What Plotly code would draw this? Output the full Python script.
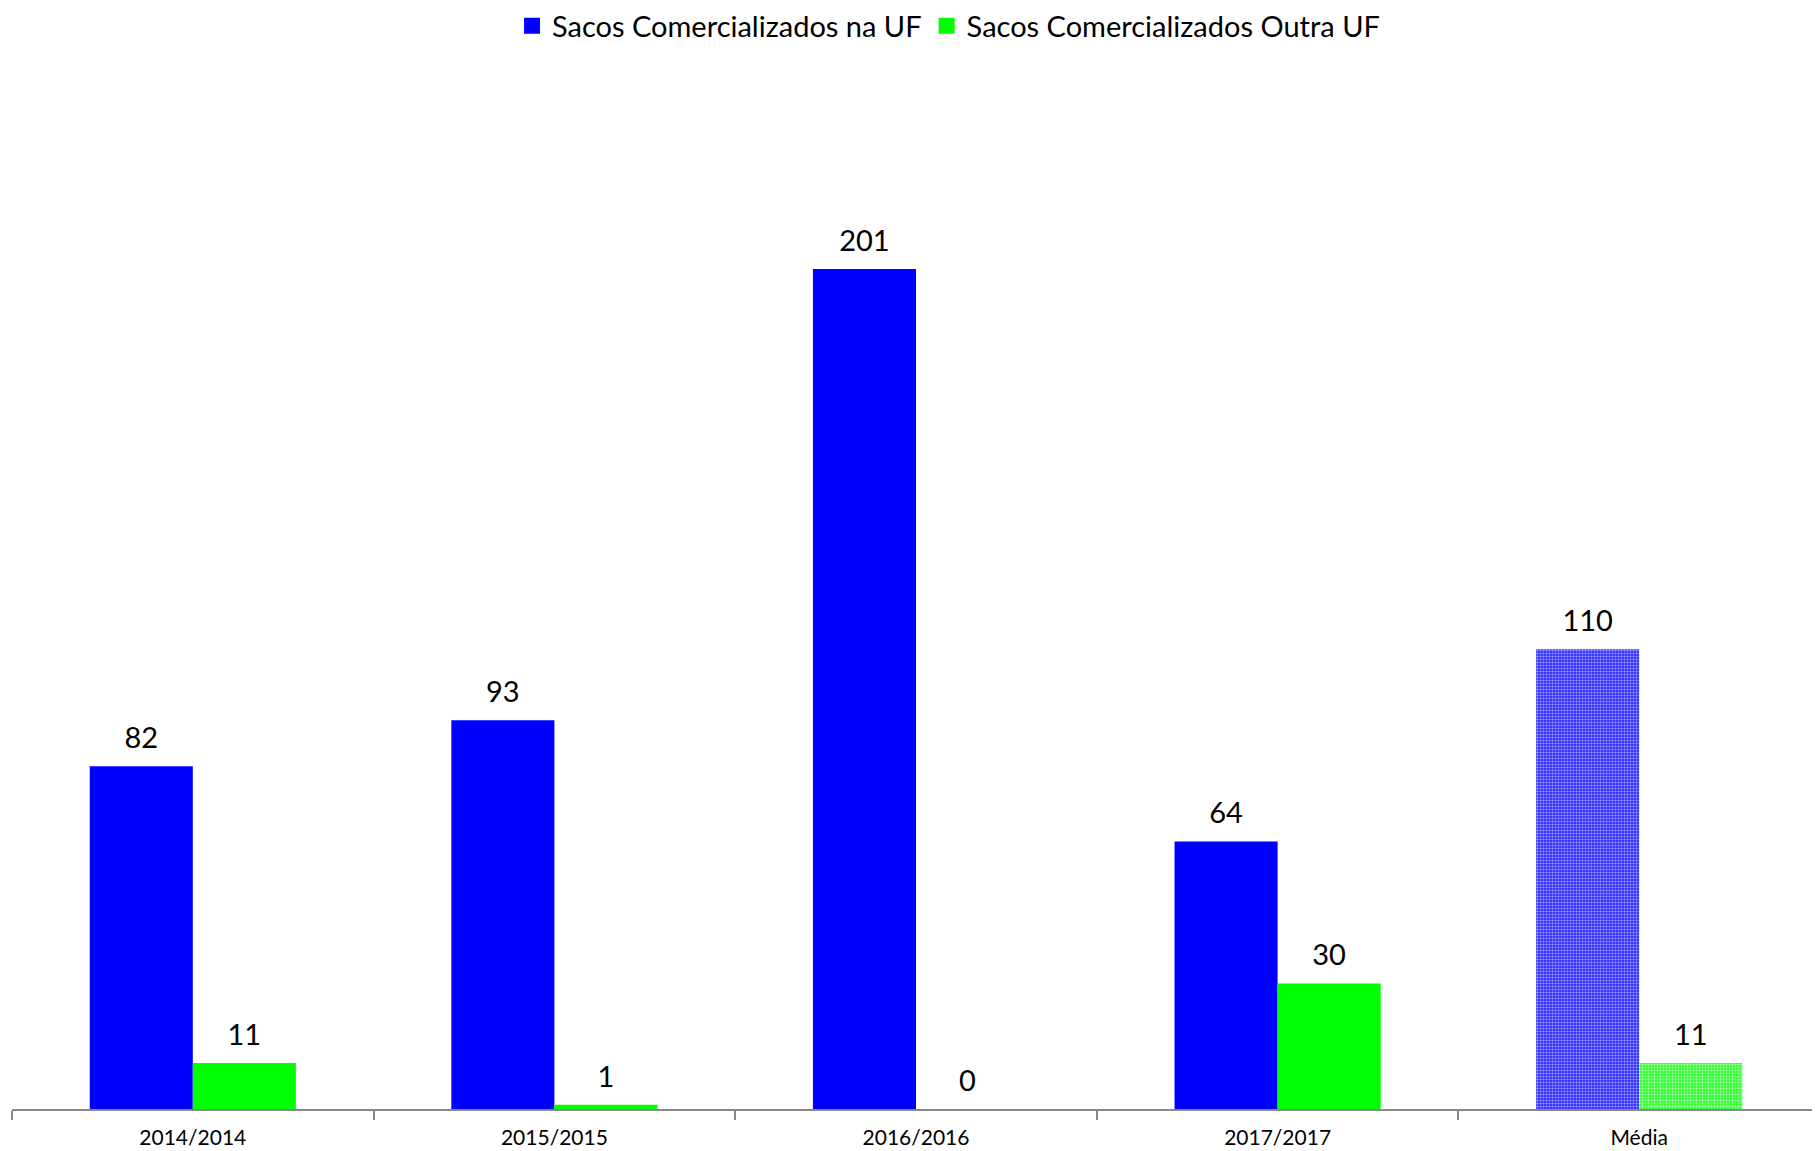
import plotly.graph_objects as go

categories = ["2014/2014", "2015/2015", "2016/2016", "2017/2017", "Média"]
na_uf = [82, 93, 201, 64, 110]
outra_uf = [11, 1, 0, 30, 11]
series_names = ["Sacos Comercializados na UF", "Sacos Comercializados Outra UF"]

BLUE = "#0000FF"
GREEN = "#00FF00"
FONT = "Lato, 'Open Sans', sans-serif"
GAP = 0.43

def pattern_for(n, bg, fg):
    shapes = [""] * (n - 1) + ["."]
    return dict(shape=shapes, fgcolor=[fg] * n, bgcolor=[bg] * n,
                size=[3] * n, solidity=[0.4] * n, fillmode="replace")

fig = go.Figure()
series = [
    (series_names[0], na_uf, BLUE, "#2e2eff", "#a0a0ff", "g1"),
    (series_names[1], outra_uf, GREEN, "#2eff2e", "#b0ffb0", "g2"),
]
for name, vals, col, pbg, pfg, grp in series:
    fig.add_trace(go.Bar(
        x=categories, y=vals, name=name, showlegend=False, offsetgroup=grp,
        marker=dict(color=col, line=dict(width=0), pattern=pattern_for(len(categories), pbg, pfg)),
        hoverinfo="x+y",
    ))

for name, vals, col, pbg, pfg, grp in series:
    fig.add_trace(go.Scatter(
        x=categories, y=vals, mode="markers+text", showlegend=False, offsetgroup=grp,
        text=[str(v) for v in vals], textposition="top center",
        textfont=dict(size=29, color="black", family=FONT),
        marker=dict(size=16, opacity=0), hoverinfo="skip", cliponaxis=False,
    ))

# legend entries
for name, vals, col, pbg, pfg, grp in series:
    fig.add_trace(go.Scatter(
        x=[None], y=[None], mode="markers", name=name, offsetgroup=grp,
        marker=dict(symbol="square", size=16, color=col),
    ))

fig.update_layout(
    width=1812, height=1143,
    paper_bgcolor="white", plot_bgcolor="white",
    margin=dict(l=4, r=0, t=98, b=42),
    barmode="group", bargap=GAP, bargroupgap=0,
    scattermode="group", scattergap=GAP,
    font=dict(family=FONT, color="black"),
    showlegend=True,
    legend=dict(orientation="h", x=0.518, xanchor="center", yref="container", y=1 - 18 / 1143,
                yanchor="middle", font=dict(size=29, family=FONT, color="black"),
                traceorder="normal", itemwidth=30, itemsizing="trace"),
    xaxis=dict(
        type="category", showgrid=False, showline=True, linecolor="#888888", linewidth=1.5,
        ticks="outside", tickson="boundaries", ticklen=9, tickcolor="#888888", tickwidth=1.5,
        tickfont=dict(size=21, family=FONT, color="black"), range=[-0.5, 4.5],
        ticklabelstandoff=9,
    ),
    yaxis=dict(range=[0, 240], visible=False, showgrid=False, zeroline=False),
)

fig.write_html("out.html")
